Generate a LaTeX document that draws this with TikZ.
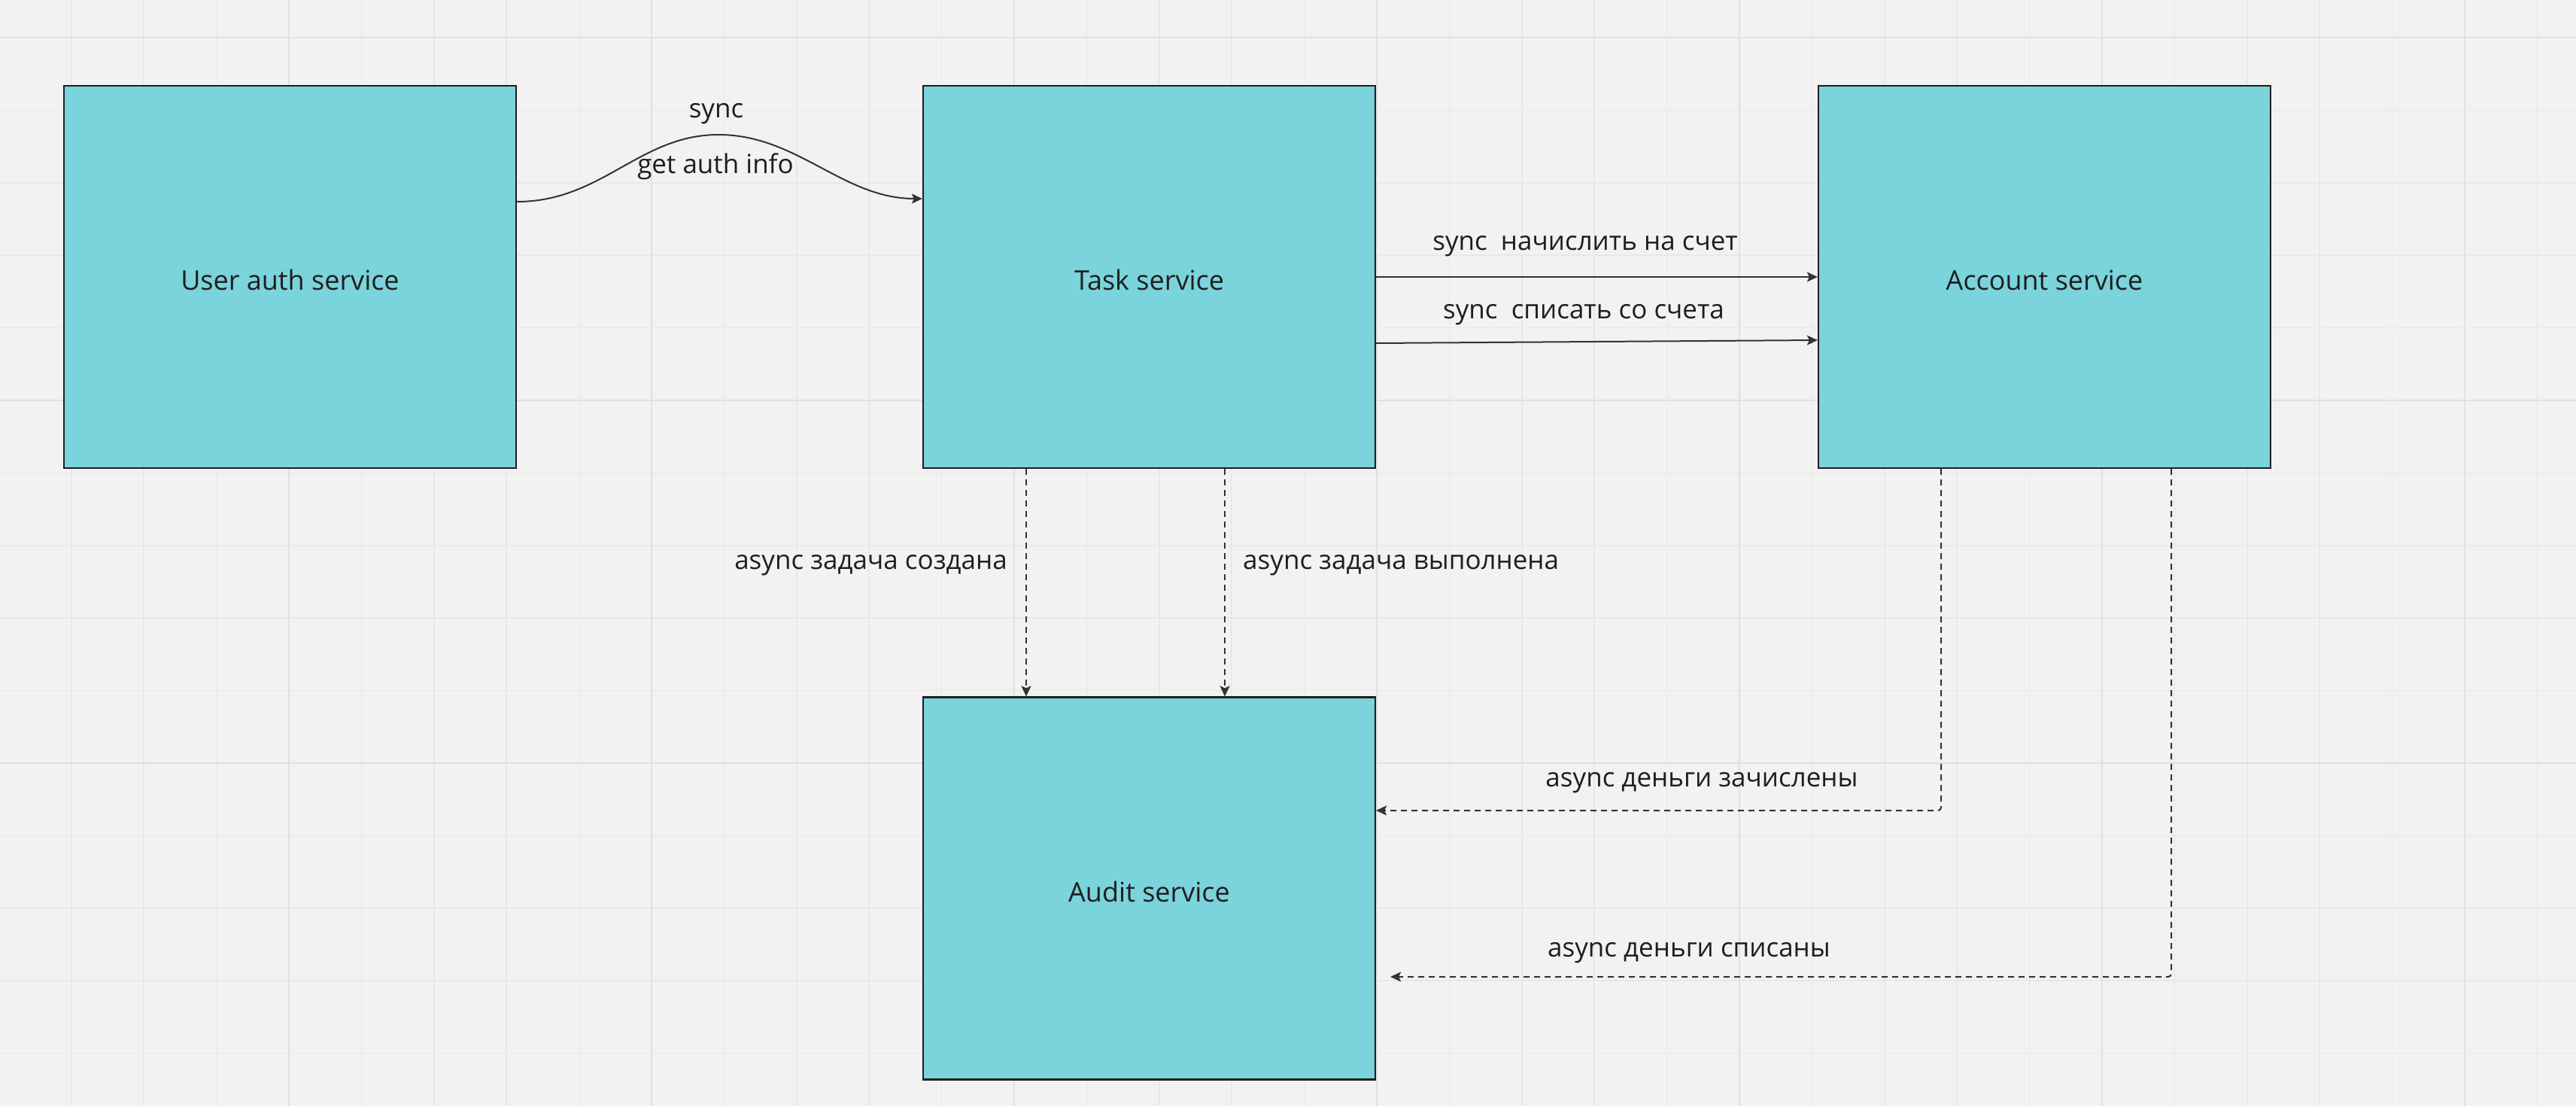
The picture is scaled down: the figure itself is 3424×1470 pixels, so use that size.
\documentclass[tikz,border=0pt]{standalone}
\usepackage{fontspec}
\setmainfont{Open Sans}
\usetikzlibrary{arrows.meta,calc}
\definecolor{bg}{HTML}{F2F2F2}
\definecolor{gridminor}{HTML}{E8E8E8}
\definecolor{gridmajor}{HTML}{E0E0E0}
\definecolor{boxc}{HTML}{78D3DB}
\definecolor{ink}{HTML}{1E1E1E}
\definecolor{linec}{HTML}{333333}
\newcommand{\boxtxt}[1]{\raisebox{-4pt}[\height][\depth]{#1}}
\begin{document}
\begin{tikzpicture}[x=1pt,y=-1pt,
  svc/.style={draw=ink,line width=2.2pt,fill=boxc,fill opacity=0.97,text opacity=1,
    minimum width=601pt,minimum height=508pt,inner sep=0pt,
    font=\fontsize{36}{40}\selectfont,text=ink},
  lbl/.style={font=\fontsize{35}{40}\selectfont,text=ink,inner sep=0pt},
  conn/.style={draw=linec,line width=2pt,-{Stealth[length=14pt,width=13pt,inset=3pt]}},
  aconn/.style={conn,dash pattern=on 8pt off 6pt}]
\useasboundingbox (0,0) rectangle (3424,1470);
\fill[bg] (0,0) rectangle (3424,1470);
% grid
\foreach \i in {0,...,35} {
  \draw[gridminor,line width=1.5pt] ({-1.6+96.4*\i},0) -- ({-1.6+96.4*\i},1470);
}
\foreach \i in {0,...,15} {
  \draw[gridminor,line width=1.5pt] (0,{50+96.4*\i}) -- (3424,{50+96.4*\i});
}
\foreach \i in {0,...,6} {
  \draw[gridmajor,line width=2.5pt] ({384+482*\i},0) -- ({384+482*\i},1470);
}
\foreach \i in {0,...,2} {
  \draw[gridmajor,line width=2.5pt] (0,{50+482*\i}) -- (3424,{50+482*\i});
}
% boxes
\node[svc] (user) at (385.5,368) {\boxtxt{User auth service}};
\node[svc] (task) at (1527.5,368) {\boxtxt{Task service}};
\node[svc] (account) at (2717.5,368) {\boxtxt{Account service}};
\node[svc] (audit) at (1527.5,1180.5) {\boxtxt{Audit service}};
% curve user -> task
\draw[conn] ([yshift=100pt]user.east) .. controls (800,268) and (850,179) .. (955,179)
  .. controls (1060,179) and (1120,264) .. ([yshift=104pt]task.west);
\node[lbl] (l1) at (952,151) {sync};
\node[lbl] (l2) at (951,221) {get auth info};
% task -> account
\draw[conn] (task.east) -- (account.west);
\node[lbl] (l3) at (2107,327) {sync\ \ начислить на счет};
\draw[conn] ([yshift=-88pt]task.east) -- ([yshift=-84pt]account.west);
\node[lbl] (l4) at (2105,418) {sync\ \ списать со счета};
% task -> audit
\draw[aconn] ([xshift=-163.5pt]task.south) -- ([xshift=-163.5pt]audit.north);
\draw[aconn] ([xshift=100.5pt]task.south) -- ([xshift=100.5pt]audit.north);
\node[lbl,anchor=east] (l5) at (1339,751) {async задача создана};
\node[lbl,anchor=west] (l6) at (1652,751) {async задача выполнена};
% account -> audit
\draw[aconn,rounded corners=4pt] ([xshift=-137.5pt]account.south) |- ([yshift=103.5pt]audit.east);
\node[lbl] (l7) at (2262,1040) {async деньги зачислены};
\coordinate (e6) at ([xshift=19pt,yshift=-117.5pt]audit.east);
\draw[aconn,rounded corners=4pt] ([xshift=168.5pt]account.south) |- (e6);
\node[lbl] (l8) at (2245,1266) {async деньги списаны};
\end{tikzpicture}
\end{document}
